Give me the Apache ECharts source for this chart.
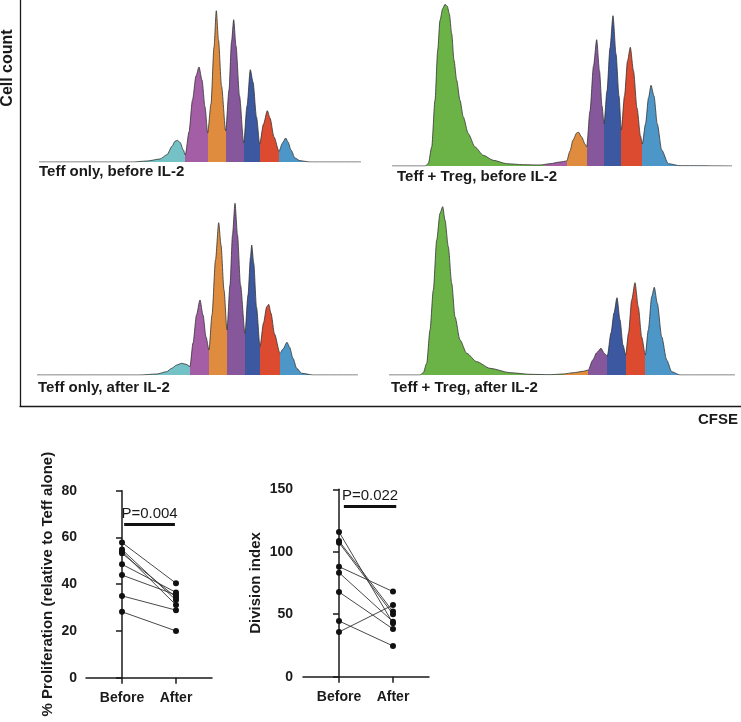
<!DOCTYPE html>
<html>
<head>
<meta charset="utf-8">
<script src="https://cdn.jsdelivr.net/npm/echarts@6/dist/echarts.min.js"></script>
<style>
  html, body { margin: 0; padding: 0; background: #fff; }
  #chart { width: 741px; height: 722px; }
</style>
</head>
<body>
<div id="chart"></div>
<script>
// CFSE histograms: [channel, cell count]
const histBeforeTeff = [[0,0],[94,0],[108,1],[121,3],[128,7.3],[133,15.7],[136,20.7],[138.3,21.7],[141,19.7],[144.3,12],[146.3,7],[150,30],[153.5,62],[157,86],[160,95],[163,82],[166,55],[168.7,29],[172,58],[175,115],[177.3,151.3],[179.5,122],[182.5,76],[186.7,31],[190,72],[192.5,120],[194.7,142.3],[197,116],[200.5,66],[204.7,19],[208,56],[211.3,92.3],[214,80],[217.5,45],[220.7,18],[224.5,38],[228.3,51.3],[231,44],[235,25],[240,10.7],[243.5,19],[246.7,24],[249,20],[252,12],[256,4],[261,1.3],[271,0],[322,0]];
const histBeforeTreg = [[0,0],[33,0],[36.3,2.3],[39.7,19],[43,65.7],[45.7,115.7],[48,145.7],[50.7,157.3],[53,161.7],[55.3,159.7],[57.3,152.3],[59.7,132.3],[62,105.7],[64.7,85.7],[68,65.7],[71.3,49],[76.3,32.3],[83,19],[91.3,10.7],[101.3,5.7],[114.7,2.3],[131.3,1.3],[148,1],[158,2.3],[168,4],[174.7,5],[178,15],[181,26],[184.7,33],[186.3,34],[189.7,29],[193,22],[194.7,19],[198,55],[201.5,100],[204.7,126.3],[207.5,95],[210,60],[212,42],[215,75],[218,118],[221,150.3],[224,112],[227,70],[229.3,36],[232.5,70],[235.5,105],[238.3,118.7],[241.5,95],[245,58],[248.5,30],[250.3,22],[253.5,42],[256.5,68],[259,80.7],[262,70],[265.3,42],[269.7,16],[276.3,2.3],[288,0.3],[340,0]];
const histAfterTeff = [[0,0],[103,0],[119.7,1],[129.7,3.3],[134.7,6.7],[139.7,10],[144.7,11.7],[149,10.7],[153,8.5],[156,32],[159.5,60],[163,75],[166,60],[169,38],[172,25],[175,60],[178.5,115],[181.7,152.3],[184,130],[187,85],[190,45],[193,90],[195.5,140],[198,171.7],[200.5,140],[203.5,90],[208,41.7],[211,80],[213.5,118],[214.7,130],[216.7,112],[219.5,68],[223,28.3],[226.5,52],[229.7,68.3],[231.7,70.7],[234,61.7],[237.5,41],[243,21.7],[246,26],[250,32.7],[252.5,28],[256,16.7],[259.7,6.7],[264.7,1.7],[276.3,0],[321,0]];
const histAfterTreg = [[0,0],[31,0],[34.3,2.3],[37.7,11.7],[41,45],[44.3,85],[47.7,135],[51,161.7],[53.7,168.3],[56,155],[59.3,128.3],[62.7,91.7],[66,58.3],[71,35],[77.7,21.7],[87.7,13.3],[101,6.7],[121,2.3],[141,0.7],[161,0.3],[174.3,1],[184.3,2.3],[194.3,3.7],[199.3,5],[203.7,15],[207.7,22.3],[212,26.7],[215.3,21.7],[218.3,19],[222,42],[225,62],[228,77.3],[231,55],[234,30],[236.7,20],[239.5,42],[242.7,75],[246,92.3],[249.3,68],[252.7,38],[256.3,20],[259.3,45],[262.7,78.3],[265.3,87.7],[268.3,71.7],[272.7,38.3],[277.7,15],[282.7,3.3],[291,0],[346,0]];

// division gates (channel boundaries between generations)
const gatesBeforeTeff = [146.3, 168.7, 186.7, 204.7, 220.7, 240];
const gatesBeforeTreg = [153, 174.7, 194.7, 212, 229.3, 250.3];
const gatesAfterTeff = [153, 172, 190, 208, 223, 243];
const gatesAfterTreg = [174.3, 199.3, 218.3, 236.7, 256.3];

const panelLabels = ['Teff only, before IL-2', 'Teff + Treg, before IL-2', 'Teff only, after IL-2', 'Teff + Treg, after IL-2'];

// paired summary plots
const groups = ['Before', 'After'];
const profBefore = [57.8, 54.8, 54.0, 53.2, 48.5, 43.9, 35.0, 28.2];
const profAfter  = [40.4, 33.2, 31.1, 34.4, 36.5, 35.4, 28.9, 20.0];
const divBefore = [115.9, 108.6, 107.3, 88.1, 83.3, 67.8, 44.6, 35.8];
const divAfter  = [42.7, 52.1, 50.0, 68.1, 44.0, 38.2, 24.6, 57.4];
const pLabels = ['P=0.004', 'P=0.022'];

const C = {
  cyan: '#74c2c6', magenta: '#a35ea6', orange: '#e08c3f', violet: '#87579c',
  blue: '#3b58a0', red: '#dc4a2f', sky: '#4c97c8', green: '#6cb347'
};
const font = '"Liberation Sans", Arial, Helvetica, sans-serif';
const ink = '#1a1a1a';

const panels = [
  { data: histBeforeTeff, gates: gatesBeforeTeff, colors: [C.cyan, C.magenta, C.orange, C.violet, C.blue, C.red, C.sky], grid: { left: 39, top: 2, width: 322, height: 160 } },
  { data: histBeforeTreg, gates: gatesBeforeTreg, colors: [C.green, C.magenta, C.orange, C.violet, C.blue, C.red, C.sky], grid: { left: 392, top: 2, width: 340, height: 164 } },
  { data: histAfterTeff, gates: gatesAfterTeff, colors: [C.cyan, C.magenta, C.orange, C.violet, C.blue, C.red, C.sky], grid: { left: 37, top: 195, width: 321, height: 180 } },
  { data: histAfterTreg, gates: gatesAfterTreg, colors: [C.green, C.orange, C.violet, C.blue, C.red, C.sky], grid: { left: 389, top: 195, width: 346, height: 180 } }
];

function pieces(gates, colors) {
  const out = [];
  colors.forEach((c, i) => {
    const p = { color: c };
    if (i > 0) p.gt = gates[i - 1];
    if (i < gates.length) p.lte = gates[i];
    out.push(p);
  });
  return out;
}

const grids = [], xAxes = [], yAxes = [], series = [], visualMaps = [];

panels.forEach((p, i) => {
  grids.push(p.grid);
  xAxes.push({ type: 'value', gridIndex: i, min: 0, max: p.grid.width, show: false });
  yAxes.push({ type: 'value', gridIndex: i, min: 0, max: p.grid.height, show: false });
  // filled area, coloured by generation gates
  series.push({
    type: 'line', xAxisIndex: i, yAxisIndex: i, data: p.data,
    smooth: 0.25, smoothMonotone: 'x', showSymbol: false, silent: true,
    lineStyle: { width: 0 }, areaStyle: { opacity: 1 }
  });
  visualMaps.push({
    type: 'piecewise', show: false, dimension: 0, seriesIndex: series.length - 1,
    pieces: pieces(p.gates, p.colors)
  });
  // dark outline
  series.push({
    type: 'line', xAxisIndex: i, yAxisIndex: i, data: p.data,
    smooth: 0.25, smoothMonotone: 'x', showSymbol: false, silent: true,
    lineStyle: { width: 0.8, color: '#333' }, z: 3
  });
});

// summary plots
const summary = [
  { before: profBefore, after: profAfter, max: 80, interval: 20, name: '% Proliferation (relative to Teff alone)', nameGap: 31, labelMargin: 9,
    grid: { left: 86, top: 490.7, width: 126, height: 187 }, bar: [0.04, 0.98, 65.8], p: pLabels[0] },
  { before: divBefore, after: divAfter, max: 150, interval: 50, name: 'Division index', nameGap: 40, labelMargin: 10,
    grid: { left: 303, top: 489.3, width: 126, height: 187.4 }, bar: [0.09, 1.06, 136.7], p: pLabels[1] }
];

summary.forEach((s, k) => {
  const gi = grids.length;
  grids.push(s.grid);
  xAxes.push({
    type: 'value', gridIndex: gi, min: -2 / 3, max: 5 / 3,
    axisLine: { lineStyle: { color: ink, width: 1.5 } },
    axisTick: { length: 6, lineStyle: { color: ink, width: 1.5 }, customValues: [0, 1] },
    axisLabel: { customValues: [0, 1], formatter: v => groups[Math.round(v)], margin: 13,
      color: ink, fontFamily: font, fontWeight: 'bold', fontSize: 14 },
    splitLine: { show: false }
  });
  yAxes.push({
    type: 'value', gridIndex: gi, min: 0, max: s.max, interval: s.interval,
    name: s.name, nameLocation: 'middle', nameGap: s.nameGap,
    nameTextStyle: { color: ink, fontFamily: font, fontWeight: 'bold', fontSize: 15 },
    axisLine: { show: true, lineStyle: { color: ink, width: 1.5 } },
    axisTick: { show: true, length: 6, lineStyle: { color: ink, width: 1.5 } },
    axisLabel: { margin: s.labelMargin, color: ink, fontFamily: font, fontWeight: 'bold', fontSize: 14 },
    splitLine: { show: false }
  });
  s.before.forEach((b, j) => {
    const ser = {
      type: 'line', xAxisIndex: gi, yAxisIndex: gi,
      data: [[0, b], [1, s.after[j]]],
      symbol: 'circle', symbolSize: 6, silent: true,
      itemStyle: { color: '#111' }, lineStyle: { color: '#333', width: 0.9 }
    };
    if (j === 0) {
      ser.markLine = {
        silent: true, symbol: 'none',
        lineStyle: { color: '#111', width: 3, type: 'solid' },
        label: { show: true, position: 'insideMiddleTop', distance: 3, formatter: s.p,
          color: ink, fontFamily: font, fontSize: 15 },
        data: [[{ coord: [s.bar[0], s.bar[2]] }, { coord: [s.bar[1], s.bar[2]] }]]
      };
    }
    series.push(ser);
  });
});

// outer frame for the histogram block
const fi = grids.length;
grids.push({ left: 20, top: 0, right: 0, height: 406 });
xAxes.push({ type: 'value', gridIndex: fi, min: 0, max: 1,
  axisLine: { lineStyle: { color: ink, width: 1.3 } }, axisTick: { show: false }, axisLabel: { show: false }, splitLine: { show: false } });
yAxes.push({ type: 'value', gridIndex: fi, min: 0, max: 1,
  axisLine: { show: true, lineStyle: { color: ink, width: 1.3 } }, axisTick: { show: false }, axisLabel: { show: false }, splitLine: { show: false } });

const labelStyle = { fontSize: 15, fontWeight: 'bold', color: ink, fontFamily: font };
const titles = [
  { text: panelLabels[0], left: 39, top: 164 },
  { text: panelLabels[1], left: 397, top: 169 },
  { text: panelLabels[2], left: 38, top: 380 },
  { text: panelLabels[3], left: 391, top: 380 },
  { text: 'CFSE', left: 698, top: 412 }
].map(t => Object.assign(t, { padding: 0, textStyle: labelStyle }));

const chart = echarts.init(document.getElementById('chart'));
chart.setOption({
  animation: false,
  title: titles,
  grid: grids,
  xAxis: xAxes,
  yAxis: yAxes,
  visualMap: visualMaps,
  series: series,
  graphic: [{
    type: 'text', x: 8, y: 68, rotation: Math.PI / 2,
    style: { text: 'Cell count', font: 'bold 16px ' + font, fill: ink,
      align: 'center', verticalAlign: 'middle', textAlign: 'center', textVerticalAlign: 'middle' }
  }]
});
</script>
</body>
</html>
